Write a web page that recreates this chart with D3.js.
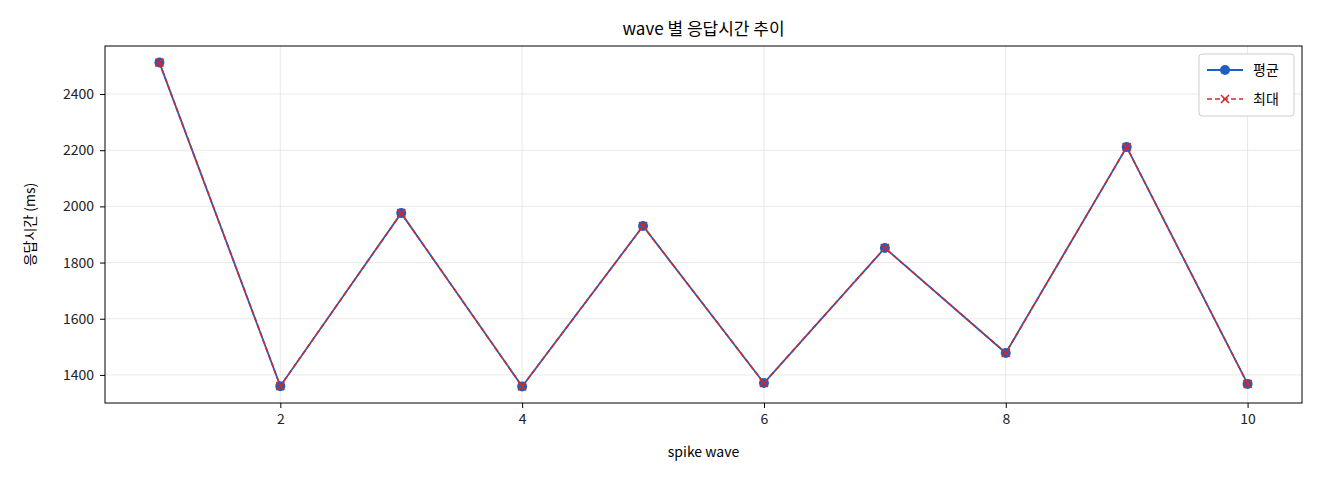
<!DOCTYPE html>
<html><head><meta charset="utf-8">
<script src="https://cdn.jsdelivr.net/npm/d3@7"></script>
<style>body{margin:0;background:#fff}text{font-family:"Noto Sans CJK KR","Noto Sans",sans-serif}</style>
</head><body><svg id="c" width="1320" height="480"></svg>
<script>
// data
var waves = [1,2,3,4,5,6,7,8,9,10];
var avgMs = [2512,1360,1976,1359,1930,1371,1852,1478,2211,1368];
var maxMs = [2512,1360,1976,1359,1930,1371,1852,1478,2211,1368];
var xTicks = [2,4,6,8,10];
var yTicks = [1400,1600,1800,2000,2200,2400];

var svg = d3.select('#c');
var L=105,R=1302,T=46,B=403;
var x = d3.scaleLinear().domain([0.55,10.45]).range([L,R]);
var y = d3.scaleLinear().domain([1300,2571]).range([B,T]);

// grid
svg.append('g').selectAll('line').data(xTicks).enter().append('line')
	.attr('x1',d=>x(d)).attr('x2',d=>x(d)).attr('y1',T).attr('y2',B)
	.attr('stroke','#e3e3e3').attr('stroke-width',0.8);
svg.append('g').selectAll('line').data(yTicks).enter().append('line')
	.attr('y1',d=>y(d)).attr('y2',d=>y(d)).attr('x1',L).attr('x2',R)
	.attr('stroke','#e3e3e3').attr('stroke-width',0.8);

svg.append('g').attr('transform',`translate(0,${B})`)
	.call(d3.axisBottom(x).tickValues(xTicks).tickFormat(d3.format('d')).tickSize(5).tickPadding(6))
	.call(g=>g.select('.domain').remove())
	.call(g=>g.attr('font-size',14))
	.selectAll('text').attr('fill','#222');
svg.append('g').attr('transform',`translate(${L},0)`)
	.call(d3.axisLeft(y).tickValues(yTicks).tickFormat(d3.format('d')).tickSize(5).tickPadding(6))
	.call(g=>g.select('.domain').remove())
	.call(g=>g.attr('font-size',14))
	.selectAll('text').attr('fill','#222');

svg.append('rect').attr('x',L).attr('y',T).attr('width',R-L).attr('height',B-T)
	.attr('fill','none').attr('stroke','#000').attr('stroke-width',1);

var line = d3.line().x((d,i)=>x(waves[i])).y(d=>y(d));
svg.append('path').datum(avgMs).attr('d',line).attr('fill','none')
	.attr('stroke','#1f5fbf').attr('stroke-width',1.8);
svg.selectAll('circle.avg').data(avgMs).enter().append('circle')
	.attr('cx',(d,i)=>x(waves[i])).attr('cy',d=>y(d)).attr('r',5).attr('fill','#1f5fbf');
svg.append('path').datum(maxMs).attr('d',line).attr('fill','none')
	.attr('stroke','#d62728').attr('stroke-width',1.6).attr('stroke-dasharray','5,3');
function cross(g,cx,cy){
	g.append('path').attr('d',`M${cx-4},${cy-4}L${cx+4},${cy+4}M${cx-4},${cy+4}L${cx+4},${cy-4}`)
		.attr('stroke','#d62728').attr('stroke-width',1.6);
}
maxMs.forEach((d,i)=>cross(svg,x(waves[i]),y(d)));

// legend
var lg = svg.append('g');
lg.append('rect').attr('x',1199).attr('y',54).attr('width',95).attr('height',62).attr('rx',3)
	.attr('fill','#fff').attr('stroke','#ccc');
lg.append('line').attr('x1',1207).attr('x2',1243).attr('y1',70).attr('y2',70).attr('stroke','#1f5fbf').attr('stroke-width',1.8);
lg.append('circle').attr('cx',1225).attr('cy',70).attr('r',5).attr('fill','#1f5fbf');
lg.append('text').attr('x',1253).attr('y',75).attr('font-size',14).text('평균');
lg.append('line').attr('x1',1207).attr('x2',1243).attr('y1',99).attr('y2',99).attr('stroke','#d62728').attr('stroke-width',1.6).attr('stroke-dasharray','5,3');
cross(lg,1225,99);
lg.append('text').attr('x',1253).attr('y',104).attr('font-size',14).text('최대');

svg.append('text').attr('x',(L+R)/2).attr('y',35).attr('text-anchor','middle').attr('font-size',17).text('wave 별 응답시간 추이');
svg.append('text').attr('x',(L+R)/2).attr('y',457).attr('text-anchor','middle').attr('font-size',14).text('spike wave');
svg.append('text').attr('transform',`translate(35,${(T+B)/2}) rotate(-90)`).attr('text-anchor','middle').attr('font-size',14).text('응답시간 (ms)');
</script></body></html>
